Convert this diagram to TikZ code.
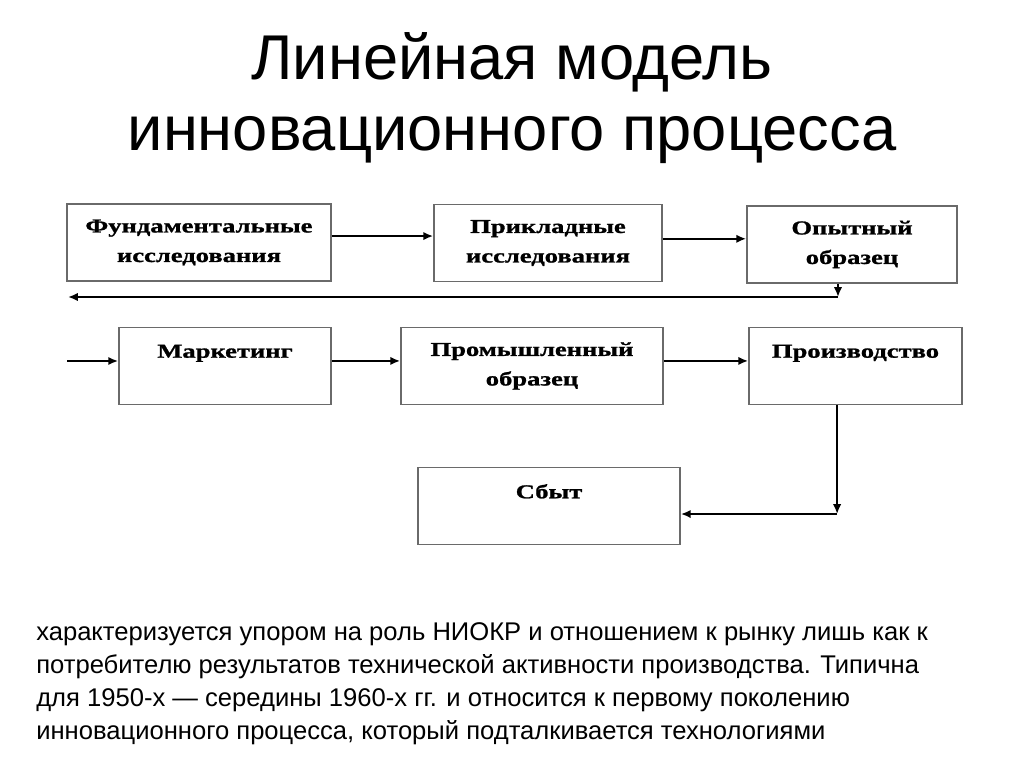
\documentclass[tikz,border=0pt]{standalone}
\usepackage{fontspec}
\setmainfont{Liberation Sans}
\newfontfamily\boxfont[FakeStretch=1.35, FakeBold=1.2]{Liberation Serif}
\usetikzlibrary{arrows.meta}
\definecolor{boxgray}{HTML}{6a6a6a}

\begin{document}
\begin{tikzpicture}[x=0.025cm, y=-0.025cm,
  box/.style={draw=boxgray, line width=1.2pt, align=center, inner sep=0pt,
    minimum height=1.92cm, font={\boxfont\bfseries\fontsize{14}{21}\selectfont}},
  arr/.style={line width=1.4pt, -{Latex[length=7pt,width=6pt]}},
  title/.style={anchor=base, font={\fontsize{45}{54}\selectfont}},
  body/.style={anchor=base west, inner sep=0pt, font={\fontsize{18.2}{23.5}\selectfont}}]
\useasboundingbox (0,0) rectangle (1024,767);

\node[title] (title1) at (512,80) {Линейная модель};
\node[title] (title2) at (512,151) {инновационного процесса};

\node[box, minimum width=6.6cm] (fund) at (199,242.5) {Фундаментальные\\исследования};
\node[box, minimum width=5.7cm] (prikl) at (548,243) {Прикладные\\исследования};
\node[box, minimum width=5.25cm] (opyt) at (852,244.5) {Опытный\\образец};

\node[box, minimum width=5.3cm] (market) at (225,366) {Маркетинг\\~};
\node[box, minimum width=6.55cm] (prom) at (532,366) {Промышленный\\образец};
\node[box, minimum width=5.325cm] (proizv) at (855.5,366) {Производство\\~};

\node[box, minimum width=6.55cm] (sbyt) at (549,506) {Сбыт\\~};

\draw[arr] ([yshift=4.6pt]fund.east) -- ([yshift=4.6pt]fund.east -| prikl.west);
\draw[arr] ([yshift=3pt]prikl.east) -- ([yshift=3pt]prikl.east -| opyt.west);

\coordinate (backend) at (68,297);
\draw[arr] ([xshift=-0.35cm]opyt.south) coordinate (od) -- (od |- backend) coordinate (oc);
\draw[arr] (oc) -- (backend);

\coordinate (inend) at (67,361);
\draw[arr] (inend) -- (inend -| market.west);
\draw[arr] ([yshift=3.6pt]market.east) -- ([yshift=3.6pt]market.east -| prom.west);
\draw[arr] ([yshift=3.6pt]prom.east) -- ([yshift=3.6pt]prom.east -| proizv.west);

\coordinate (sbin) at ([yshift=-5.7pt]sbyt.east);
\draw[arr] ([xshift=-0.46cm]proizv.south) coordinate (pd) -- (pd |- sbin) coordinate (pc);
\draw[arr] (pc) -- (sbin);

\foreach \t [count=\i] in {%
  {характеризуется упором на роль НИОКР и отношением к рынку лишь как к},
  {потребителю результатов технической активности производства. Типична},
  {для 1950-х — середины 1960-х гг. и относится к первому поколению},
  {инновационного процесса, который подталкивается технологиями}} {
  \node[body] (txt\i) at (36,607+33*\i) {\t};
}
\end{tikzpicture}
\end{document}
